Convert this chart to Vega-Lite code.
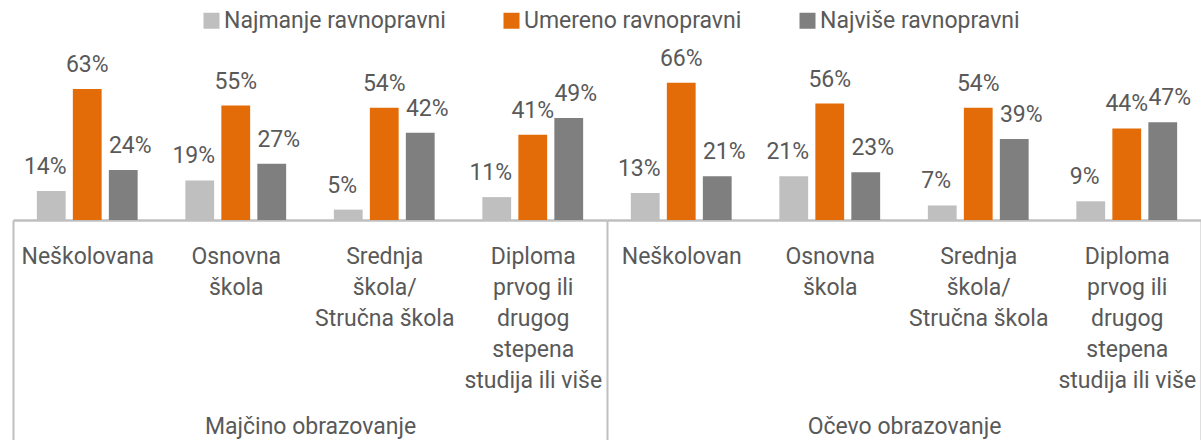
{
  "$schema": "https://vega.github.io/schema/vega-lite/v6.json",
  "background": "white",
  "padding": {"left": 12, "top": 0, "right": 0, "bottom": 0},
  "spacing": 0,
  "bounds": "flush",
  "config": {
    "view": {"stroke": null},
    "concat": {"spacing": 0},
    "font": "Roboto"
  },
  "data": {
    "values": [
      {"edu": "Majčino obrazovanje", "cat": "Neškolovana", "series": "Najmanje ravnopravni", "value": 0.14},
      {"edu": "Majčino obrazovanje", "cat": "Neškolovana", "series": "Umereno ravnopravni", "value": 0.63},
      {"edu": "Majčino obrazovanje", "cat": "Neškolovana", "series": "Najviše ravnopravni", "value": 0.24},
      {"edu": "Majčino obrazovanje", "cat": "Osnovna škola", "series": "Najmanje ravnopravni", "value": 0.19},
      {"edu": "Majčino obrazovanje", "cat": "Osnovna škola", "series": "Umereno ravnopravni", "value": 0.55},
      {"edu": "Majčino obrazovanje", "cat": "Osnovna škola", "series": "Najviše ravnopravni", "value": 0.27},
      {"edu": "Majčino obrazovanje", "cat": "Srednja škola/Stručna škola", "series": "Najmanje ravnopravni", "value": 0.05},
      {"edu": "Majčino obrazovanje", "cat": "Srednja škola/Stručna škola", "series": "Umereno ravnopravni", "value": 0.54},
      {"edu": "Majčino obrazovanje", "cat": "Srednja škola/Stručna škola", "series": "Najviše ravnopravni", "value": 0.42},
      {"edu": "Majčino obrazovanje", "cat": "Diploma prvog ili drugog stepena studija ili više", "series": "Najmanje ravnopravni", "value": 0.11},
      {"edu": "Majčino obrazovanje", "cat": "Diploma prvog ili drugog stepena studija ili više", "series": "Umereno ravnopravni", "value": 0.41},
      {"edu": "Majčino obrazovanje", "cat": "Diploma prvog ili drugog stepena studija ili više", "series": "Najviše ravnopravni", "value": 0.49},
      {"edu": "Očevo obrazovanje", "cat": "Neškolovan", "series": "Najmanje ravnopravni", "value": 0.13},
      {"edu": "Očevo obrazovanje", "cat": "Neškolovan", "series": "Umereno ravnopravni", "value": 0.66},
      {"edu": "Očevo obrazovanje", "cat": "Neškolovan", "series": "Najviše ravnopravni", "value": 0.21},
      {"edu": "Očevo obrazovanje", "cat": "Osnovna škola", "series": "Najmanje ravnopravni", "value": 0.21},
      {"edu": "Očevo obrazovanje", "cat": "Osnovna škola", "series": "Umereno ravnopravni", "value": 0.56},
      {"edu": "Očevo obrazovanje", "cat": "Osnovna škola", "series": "Najviše ravnopravni", "value": 0.23},
      {"edu": "Očevo obrazovanje", "cat": "Srednja škola/Stručna škola", "series": "Najmanje ravnopravni", "value": 0.07},
      {"edu": "Očevo obrazovanje", "cat": "Srednja škola/Stručna škola", "series": "Umereno ravnopravni", "value": 0.54},
      {"edu": "Očevo obrazovanje", "cat": "Srednja škola/Stručna škola", "series": "Najviše ravnopravni", "value": 0.39},
      {"edu": "Očevo obrazovanje", "cat": "Diploma prvog ili drugog stepena studija ili više", "series": "Najmanje ravnopravni", "value": 0.09},
      {"edu": "Očevo obrazovanje", "cat": "Diploma prvog ili drugog stepena studija ili više", "series": "Umereno ravnopravni", "value": 0.44},
      {"edu": "Očevo obrazovanje", "cat": "Diploma prvog ili drugog stepena studija ili više", "series": "Najviše ravnopravni", "value": 0.47}
    ]
  },
  "hconcat": [
    {
      "width": 594,
      "height": 220,
      "transform": [{"filter": "datum.edu == 'Majčino obrazovanje'"}],
      "encoding": {
        "x": {
          "field": "cat", "type": "nominal",
          "sort": ["Neškolovana", "Osnovna škola", "Srednja škola/Stručna škola", "Diploma prvog ili drugog stepena studija ili više"],
          "scale": {"paddingInner": 0, "paddingOuter": 0},
          "title": "Majčino obrazovanje",
          "axis": {
            "orient": "bottom",
            "domainColor": "#bfbfbf", "domainWidth": 2.5,
            "ticks": true, "tickBand": "extent", "tickSize": 220, "tickColor": "#bfbfbf", "tickWidth": 2,
            "tickOpacity": {"condition": {"test": "datum.extra", "value": 1}, "value": 0},
            "labelPadding": -195, "labelFontSize": 23, "labelFont": "Roboto", "labelColor": "#595959",
            "labelLineHeight": 31, "labelAngle": 0, "labelBaseline": "top", "labelOverlap": false, "labelLimit": 300,
            "labelExpr": "datum.label == 'Osnovna škola' ? ['Osnovna', 'škola'] : datum.label == 'Srednja škola/Stručna škola' ? ['Srednja', 'škola/', 'Stručna škola'] : datum.label == 'Diploma prvog ili drugog stepena studija ili više' ? ['Diploma', 'prvog ili', 'drugog', 'stepena', 'studija ili više'] : datum.label",
            "titleFontSize": 23, "titleFont": "Roboto", "titleFontWeight": "normal", "titleColor": "#595959",
            "titleY": 213, "titleBaseline": "alphabetic"
          }
        },
        "xOffset": {
          "field": "series",
          "sort": ["Najmanje ravnopravni", "Umereno ravnopravni", "Najviše ravnopravni"],
          "scale": {"paddingInner": 0.2, "paddingOuter": 0.6625}
        },
        "y": {"field": "value", "type": "quantitative", "scale": {"domain": [0, 1.0577]}, "axis": null}
      },
      "layer": [
        {
          "mark": {"type": "bar"},
          "encoding": {
            "color": {
              "field": "series", "type": "nominal",
              "scale": {"domain": ["Najmanje ravnopravni", "Umereno ravnopravni", "Najviše ravnopravni"], "range": ["#bfbfbf", "#e36c09", "#7f7f7f"]},
              "legend": {
                "orient": "none", "legendX": 187, "legendY": 9, "direction": "horizontal", "title": null,
                "symbolType": "square", "symbolSize": 256, "symbolStrokeWidth": 0,
                "labelFontSize": 23, "labelFont": "Roboto", "labelColor": "#595959", "labelLimit": 400,
                "columnPadding": 54, "labelOffset": 1
              }
            }
          }
        },
        {
          "transform": [{"filter": "datum.series == 'Najmanje ravnopravni'"}],
          "mark": {"type": "text", "baseline": "alphabetic", "dy": -17, "dx": -6, "fontSize": 23, "font": "Roboto", "color": "#595959"},
          "encoding": {"text": {"field": "value", "type": "quantitative", "format": ".0%"}}
        },
        {
          "transform": [{"filter": "datum.series == 'Umereno ravnopravni'"}],
          "mark": {"type": "text", "baseline": "alphabetic", "dy": -17, "fontSize": 23, "font": "Roboto", "color": "#595959"},
          "encoding": {"text": {"field": "value", "type": "quantitative", "format": ".0%"}}
        },
        {
          "transform": [{"filter": "datum.series == 'Najviše ravnopravni'"}],
          "mark": {"type": "text", "baseline": "alphabetic", "dy": -17, "dx": 7, "fontSize": 23, "font": "Roboto", "color": "#595959"},
          "encoding": {"text": {"field": "value", "type": "quantitative", "format": ".0%"}}
        }
      ]
    },
    {
      "width": 594,
      "height": 220,
      "transform": [{"filter": "datum.edu == 'Očevo obrazovanje'"}],
      "encoding": {
        "x": {
          "field": "cat", "type": "nominal",
          "sort": ["Neškolovan", "Osnovna škola", "Srednja škola/Stručna škola", "Diploma prvog ili drugog stepena studija ili više"],
          "scale": {"paddingInner": 0, "paddingOuter": 0},
          "title": "Očevo obrazovanje",
          "axis": {
            "orient": "bottom",
            "domainColor": "#bfbfbf", "domainWidth": 2.5,
            "ticks": true, "tickBand": "extent", "tickSize": 220, "tickColor": "#bfbfbf", "tickWidth": 2,
            "tickOpacity": {"condition": {"test": "datum.extra || datum.index == 1", "value": 1}, "value": 0},
            "labelPadding": -195, "labelFontSize": 23, "labelFont": "Roboto", "labelColor": "#595959",
            "labelLineHeight": 31, "labelAngle": 0, "labelBaseline": "top", "labelOverlap": false, "labelLimit": 300,
            "labelExpr": "datum.label == 'Osnovna škola' ? ['Osnovna', 'škola'] : datum.label == 'Srednja škola/Stručna škola' ? ['Srednja', 'škola/', 'Stručna škola'] : datum.label == 'Diploma prvog ili drugog stepena studija ili više' ? ['Diploma', 'prvog ili', 'drugog', 'stepena', 'studija ili više'] : datum.label",
            "titleFontSize": 23, "titleFont": "Roboto", "titleFontWeight": "normal", "titleColor": "#595959",
            "titleY": 213, "titleBaseline": "alphabetic"
          }
        },
        "xOffset": {
          "field": "series",
          "sort": ["Najmanje ravnopravni", "Umereno ravnopravni", "Najviše ravnopravni"],
          "scale": {"paddingInner": 0.2, "paddingOuter": 0.6625}
        },
        "y": {"field": "value", "type": "quantitative", "scale": {"domain": [0, 1.0577]}, "axis": null}
      },
      "layer": [
        {
          "mark": {"type": "bar"},
          "encoding": {
            "color": {
              "field": "series", "type": "nominal",
              "scale": {"domain": ["Najmanje ravnopravni", "Umereno ravnopravni", "Najviše ravnopravni"], "range": ["#bfbfbf", "#e36c09", "#7f7f7f"]}
            }
          }
        },
        {
          "transform": [{"filter": "datum.series == 'Najmanje ravnopravni'"}],
          "mark": {"type": "text", "baseline": "alphabetic", "dy": -17, "dx": -6, "fontSize": 23, "font": "Roboto", "color": "#595959"},
          "encoding": {"text": {"field": "value", "type": "quantitative", "format": ".0%"}}
        },
        {
          "transform": [{"filter": "datum.series == 'Umereno ravnopravni'"}],
          "mark": {"type": "text", "baseline": "alphabetic", "dy": -17, "fontSize": 23, "font": "Roboto", "color": "#595959"},
          "encoding": {"text": {"field": "value", "type": "quantitative", "format": ".0%"}}
        },
        {
          "transform": [{"filter": "datum.series == 'Najviše ravnopravni'"}],
          "mark": {"type": "text", "baseline": "alphabetic", "dy": -17, "dx": 7, "fontSize": 23, "font": "Roboto", "color": "#595959"},
          "encoding": {"text": {"field": "value", "type": "quantitative", "format": ".0%"}}
        }
      ]
    }
  ]
}
